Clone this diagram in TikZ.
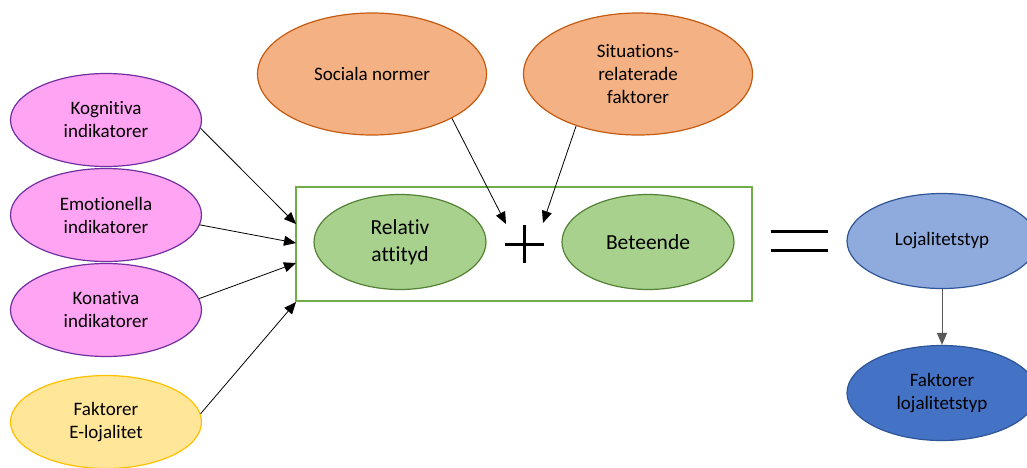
\documentclass[tikz,border=0pt]{standalone}
\usepackage{fontspec}
\setmainfont{Carlito}[Ligatures=NoCommon]
\usetikzlibrary{shapes.geometric,arrows.meta}
\definecolor{pinkfill}{RGB}{255,163,243}
\definecolor{pinkline}{RGB}{112,48,160}
\definecolor{yelfill}{RGB}{255,230,153}
\definecolor{yelline}{RGB}{255,192,0}
\definecolor{orfill}{RGB}{244,177,131}
\definecolor{orline}{RGB}{197,90,17}
\definecolor{grfill}{RGB}{169,209,142}
\definecolor{grline}{RGB}{84,130,53}
\definecolor{boxline}{RGB}{112,173,71}
\definecolor{lbfill}{RGB}{143,170,220}
\definecolor{bline}{RGB}{47,85,151}
\definecolor{dbfill}{RGB}{68,114,196}
\tikzset{
  oval/.style={ellipse, inner sep=0pt, align=center, line width=1.2pt,
    font=\fontsize{19}{23}\selectfont},
  pinkoval/.style={oval, draw=pinkline, fill=pinkfill, minimum width=191pt, minimum height=93pt},
  yeloval/.style={oval, draw=yelline, fill=yelfill, minimum width=191pt, minimum height=93pt},
  oroval/.style={oval, draw=orline, fill=orfill, minimum width=229pt, minimum height=122pt},
  groval/.style={oval, draw=grline, fill=grfill, minimum width=172pt, minimum height=95pt,
    font=\fontsize{21.5}{27}\selectfont},
  lboval/.style={oval, draw=bline, fill=lbfill, minimum width=190pt, minimum height=95pt},
  dboval/.style={oval, draw=bline, fill=dbfill, minimum width=190pt, minimum height=95pt},
  conn/.style={-{Triangle[length=12pt,width=10pt]}, line width=0.8pt, black},
  symb/.style={line width=3pt, black}
}
\begin{document}
\begin{tikzpicture}[x=1pt,y=-1pt]
\useasboundingbox (0,0) rectangle (1027,467);
% frame
\node[draw=boxline, line width=1.2pt, minimum width=456pt, minimum height=114pt, inner sep=0pt] (box) at (524,244) {};
% left ovals
\node[pinkoval] (kog) at (106,120) {Kognitiva\\indikatorer};
\node[pinkoval] (emo) at (106,215) {Emotionella\\indikatorer};
\node[pinkoval] (kon) at (106,310) {Konativa\\indikatorer};
\node[yeloval] (fak) at (106,422) {Faktorer\\E-lojalitet};
% top ovals
\node[oroval] (soc) at (372,74) {Sociala normer};
\node[oroval] (sit) at (638,74) {Situations-\\relaterade\\faktorer};
% inner ovals
\node[groval] (rel) at (400,242) {Relativ\\attityd};
\node[groval] (bet) at (648,242) {Beteende};
% right ovals
\node[lboval] (loj) at (942,241) {Lojalitetstyp};
\node[dboval] (flo) at (942,393) {Faktorer\\lojalitetstyp};
% plus sign
\coordinate (plusc) at (524,244);
\draw[symb] ([xshift=-19pt]plusc) -- ([xshift=20pt]plusc);
\draw[symb] ([yshift=-19pt]plusc) -- ([yshift=19pt]plusc);
% equals sign
\coordinate (eqc) at (800,241);
\draw[symb] ([xshift=-29pt,yshift=-9.5pt]eqc) -- ([xshift=28pt,yshift=-9.5pt]eqc);
\draw[symb] ([xshift=-29pt,yshift=9.5pt]eqc) -- ([xshift=28pt,yshift=9.5pt]eqc);
% arrow targets
\coordinate (t1) at (296,224);
\coordinate (t2) at (296,243);
\coordinate (t3) at (296,263);
\coordinate (t4) at (296,302);
\coordinate (t5) at (506,224);
\coordinate (t6) at (543,223);
% arrows
\draw[conn] (kog.-5) -- (t1);
\draw[conn] (emo.-6) -- (t2);
\draw[conn] (kon.7) -- (t3);
\draw[conn] (fak.5) -- (t4);
\draw[conn] (soc.-29) -- (t5);
\draw[conn] (sit.-140) -- (t6);
\draw[-{Triangle[length=12pt,width=10pt]}, line width=1pt, gray!70!black] (loj.south) -- (flo.north);
\end{tikzpicture}
\end{document}
